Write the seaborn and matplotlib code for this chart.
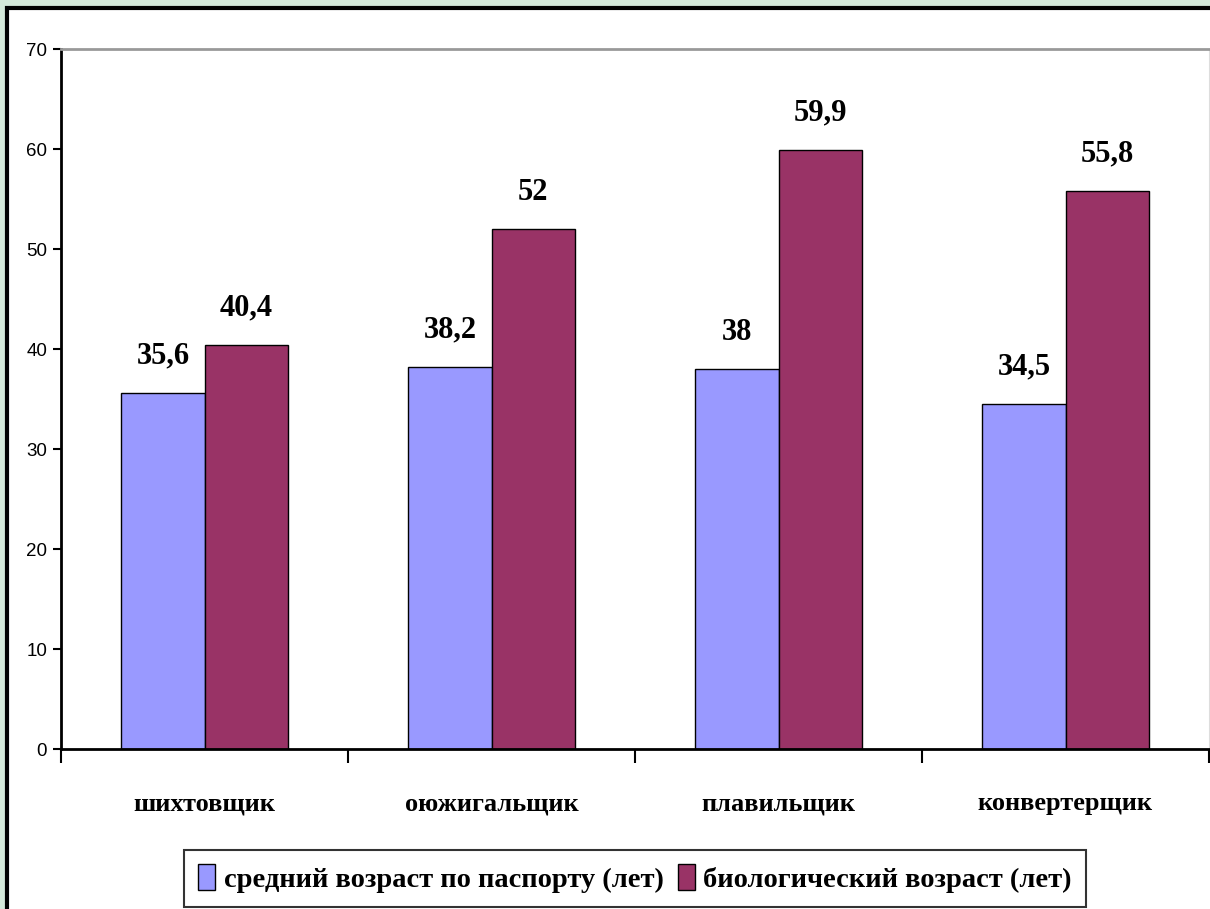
import pandas as pd
import numpy as np
import seaborn as sns
import matplotlib.pyplot as plt
from matplotlib.patches import Rectangle

# data
categories = ["шихтовщик", "оюжигальщик", "плавильщик", "конвертерщик"]
series_names = ["средний возраст по паспорту (лет)", "биологический возраст (лет)"]
passport_age = [35.6, 38.2, 38.0, 34.5]
bio_age = [40.4, 52.0, 59.9, 55.8]
y_ticks = [0, 10, 20, 30, 40, 50, 60, 70]

df = pd.DataFrame({
    "category": categories * 2,
    "series": [series_names[0]] * 4 + [series_names[1]] * 4,
    "value": passport_age + bio_age,
})

sns.set_style("white")
plt.rcParams["font.family"] = ["Liberation Sans", "DejaVu Sans"]
plt.rcParams["text.color"] = "black"
plt.rcParams["xtick.color"] = "black"
plt.rcParams["ytick.color"] = "black"

fig = plt.figure(figsize=(12.1, 9.09), dpi=100)
fig.patch.set_facecolor("#d3e8d9")
# white panel with black frame
fig.patches.append(Rectangle((7 / 1210, -0.05), 1.1, (909 - 8) / 909 + 0.05,
                             transform=fig.transFigure, facecolor="white",
                             edgecolor="black", linewidth=3, zorder=-10))

ax = fig.add_axes([61 / 1210, 160 / 909, 1148 / 1210, 700 / 909])
ax.set_facecolor("white")

sns.barplot(data=df, x="category", y="value", hue="series",
            palette=["#9999ff", "#993366"], width=0.58, gap=0,
            edgecolor="black", linewidth=1, saturation=1, ax=ax, legend=True)

def fmt(v):
    s = f"{v:.1f}".replace(".", ",")
    return s[:-2] if s.endswith(",0") else s

for cont in ax.containers:
    for bar in cont:
        h = bar.get_height()
        ax.annotate(fmt(h), (bar.get_x() + bar.get_width() / 2, h),
                    xytext=(0, 16), textcoords="offset points",
                    ha="center", va="bottom", fontsize=22, fontweight="bold",
                    family="Liberation Serif", color="black")

ax.set_ylim(0, 70)
ax.set_xlim(-0.5, 3.5)
ax.set_yticks(y_ticks)
ax.set_xlabel("")
ax.set_ylabel("")
ax.tick_params(axis="y", left=True, length=6, width=1.5, labelsize=13.5, pad=4)
ax.set_xticks(range(4))
ax.set_xticklabels(categories, fontsize=19, fontweight="bold", family="Liberation Serif")
ax.set_xticks([-0.5, 0.5, 1.5, 2.5, 3.5], minor=True)
ax.tick_params(axis="x", which="major", length=0, pad=31)
ax.tick_params(axis="x", which="minor", bottom=True, length=10, width=1.5)

for side in ["left", "bottom"]:
    ax.spines[side].set_color("black")
    ax.spines[side].set_linewidth(2)
ax.spines["top"].set_color("#999999")
ax.spines["top"].set_linewidth(2)
ax.spines["right"].set_color("#dddddd")

leg = ax.legend(loc="upper center", bbox_to_anchor=(0.5, -0.144), ncol=2,
                frameon=True, fancybox=False, edgecolor="black",
                prop={"family": "Liberation Serif", "weight": "bold", "size": 20.5},
                handlelength=0.6, handleheight=1.0, handletextpad=0.3,
                columnspacing=0.5, borderpad=0.5, borderaxespad=0)
leg.get_frame().set_linewidth(1.5)

fig.savefig("out.png", dpi=100, facecolor=fig.get_facecolor())
